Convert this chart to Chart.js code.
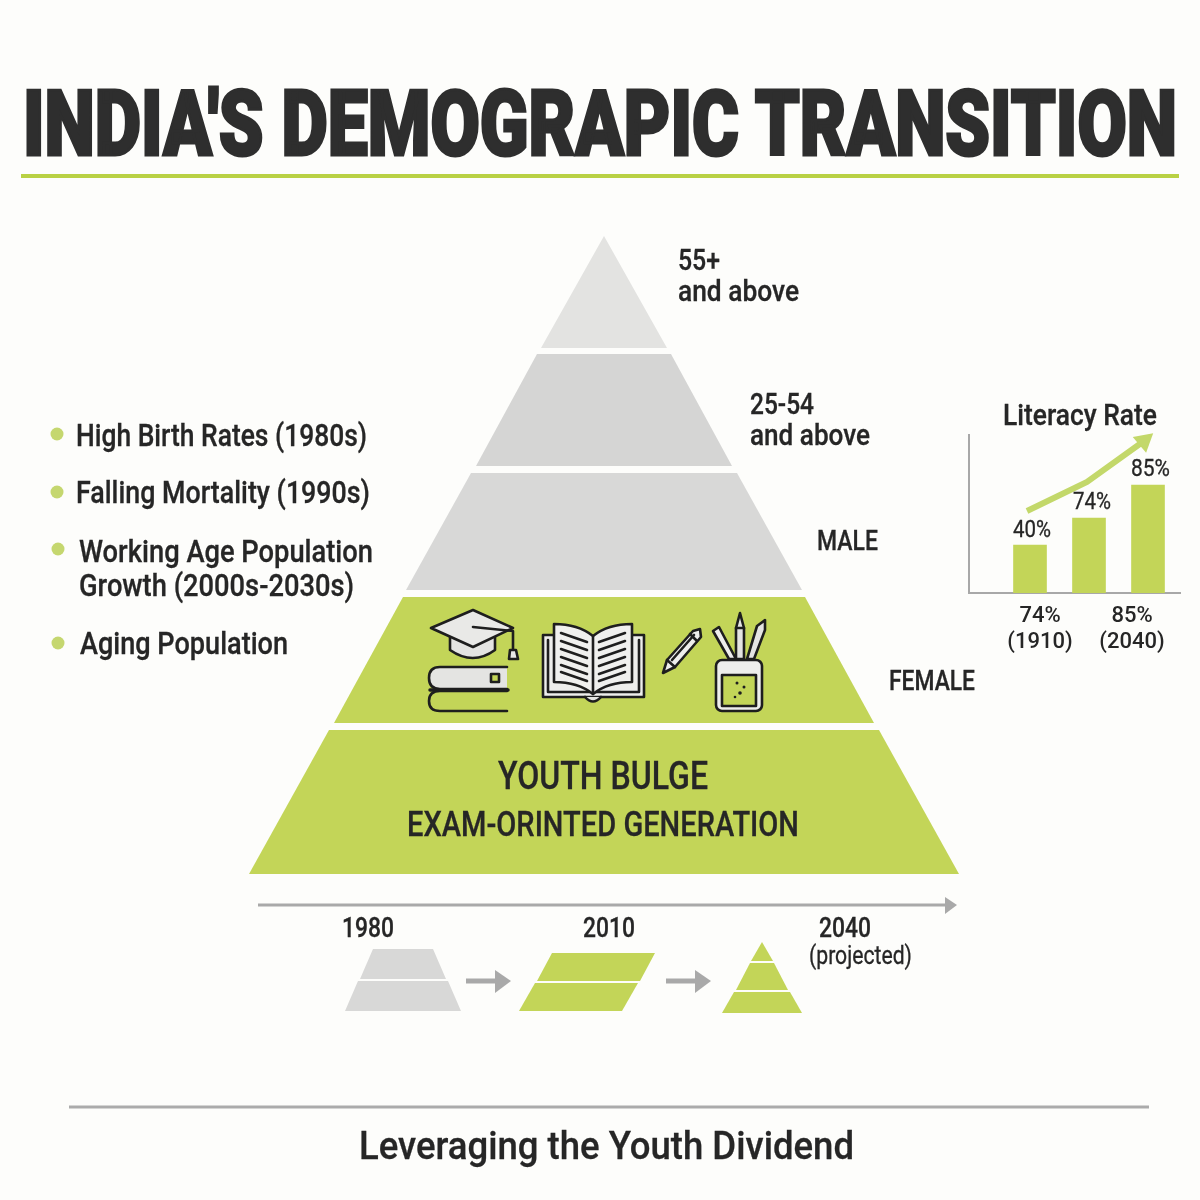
<!DOCTYPE html>
<html><head><meta charset="utf-8">
<script src="https://cdn.jsdelivr.net/npm/chart.js@4"></script>
<style>
html,body{margin:0;padding:0;background:#fdfdfb;width:1200px;height:1200px;overflow:hidden}
#wrap{position:relative;width:1200px;height:1200px}
canvas{position:absolute}
.t{position:absolute;left:0;top:0;white-space:nowrap;transform-origin:0 0;font-family:Roboto,sans-serif;color:#262626;line-height:1;-webkit-text-stroke:.3px #262626}
svg{position:absolute;left:0;top:0}
</style></head><body>
<div id="wrap">
<canvas id="main" width="1200" height="1200" style="left:0;top:0"></canvas>
<canvas id="lit" width="230" height="240" style="left:960px;top:425px"></canvas>
<svg width="1200" height="1200" viewBox="0 0 1200 1200" fill="none" stroke="#1e1e1e" stroke-width="2.6" stroke-linejoin="round" stroke-linecap="round">
  <!-- cap -->
  <path d="M450 636V650Q473 666 495 650V636" fill="#e4e4e2"/>
  <path d="M431 628L473 610L513 628L473 647Z" fill="#e9e9e7"/>
  <path d="M473 627L513 631V650"/>
  <path d="M510 650H516L518 659H509Z" fill="#e9e9e7"/>
  <!-- books -->
  <path d="M507 667H440Q429 667 429 678Q429 689 440 689H507" fill="#e4e4e2"/>
  <rect x="491" y="674" width="8" height="8" fill="#c3d558"/>
  <path d="M430 690H508" stroke-width="3.5"/>
  <path d="M507 691H440Q429 691 429 701Q429 711 440 711H507" fill="#c3d558"/>
  <!-- open book -->
  <path d="M554 635H543V697H644V635H632" fill="#eeeeec"/>
  <path d="M548 640V692H639V640" fill="#eeeeec"/>
  <path d="M585 697Q593 706 601 697" fill="#e4e4e2"/>
  <path d="M554 624Q578 624 593 636Q608 624 632 624V682Q608 682 593 694Q578 682 554 682Z" fill="#f0f0ee"/>
  <path d="M593 636V694"/>
  <path d="M561 633L587 642M561 641L587 650M561 649L587 658M561 657L587 666M561 665L587 674M561 672L587 681"/>
  <path d="M625 633L599 642M625 641L599 650M625 649L599 658M625 657L599 666M625 665L599 674M625 672L599 681"/>
  <!-- pencil -->
  <path d="M663 673L667 660L693 631L700 629L701 637L675 667Z" fill="#eeeeec"/>
  <path d="M667 660L675 667M690 634L697 641M672 660L694 635"/>
  <!-- pencils in cup -->
  <path d="M713 631L719 627L736 659H729Z" fill="#eeeeec"/>
  <path d="M736 659V628L740 613L744 628V659Z" fill="#e4e4e2"/>
  <path d="M736 628H744"/>
  <path d="M747 659L757 626L765 620L765 630L754 659Z" fill="#e4e4e2"/>
  <rect x="716" y="660" width="46" height="51" rx="6" fill="#eeeeec"/>
  <rect x="722" y="675" width="34" height="31" fill="#c3d558"/>
  <g fill="#1e1e1e" stroke="none"><circle cx="737" cy="683" r="1.5"/><circle cx="744" cy="687" r="1.5"/><circle cx="740" cy="693" r="1.8"/><circle cx="735" cy="697" r="1.3"/></g>
</svg>
</div>
<script>
// ---- text ----
const chartTitle = "INDIA'S DEMOGRAPIC TRANSITION";
const footerText = "Leveraging the Youth Dividend";
const driverLabels = ["High Birth Rates (1980s)", "Falling Mortality (1990s)", "Working Age Population", "Growth (2000s-2030s)", "Aging Population"];
const ageLabels = ["55+", "and above", "25-54", "and above", "MALE", "FEMALE"];
const youthLabels = ["YOUTH BULGE", "EXAM-ORINTED GENERATION"];
const timelineLabels = ["1980", "2010", "2040", "(projected)"];
const literacyTitle = "Literacy Rate";
const literacyValueLabels = ["40%", "74%", "85%"];
const literacyTickLabels = [["74%", "(1910)"], ["85%", "(2040)"]];

// ---- pyramid: five bands, levels and half-widths ----
const pyramidCentre = 604;
const bandTopLevel = [236, 354, 473, 597, 730];
const bandBottomLevel = [348, 466, 590, 723, 874];
const bandTopHalfWidth = [0, 67, 133, 201, 275];
const bandBottomHalfWidth = [63, 128, 198, 270, 355];
const bandColors = ["#e3e3e1", "#d5d5d4", "#d8d8d7", "#c3d558", "#c3d558"];

// ---- small pyramids under the timeline ----
const shape1980a = [[373,949],[433,949],[446,979],[360,979]];
const shape1980b = [[358,981],[448,981],[461,1011],[345,1011]];
const shape2010a = [[552,953],[655,953],[640,981],[537,981]];
const shape2010b = [[535,983],[638,983],[622,1011],[519,1011]];
const shape2040a = [[762,942],[773,961],[751,961]];
const shape2040b = [[750,963],[774,963],[788,990],[736,990]];
const shape2040c = [[734,992],[790,992],[802,1013],[722,1013]];

// ---- lines, arrows, bullets ----
const timelineAxis = [[258,905],[946,905]];
const timelineHead = [[945,897],[957,905],[945,914]];
const arrowOne = [[466,981],[496,981]];
const arrowOneHead = [[495,970],[511,981],[495,993]];
const arrowTwo = [[666,981],[696,981]];
const arrowTwoHead = [[695,970],[711,981],[695,993]];
const titleRule = [[21,176],[1179,176]];
const footerRule = [[69,1107],[1149,1107]];
const bulletPoints = [[57,434],[57,492],[58,549],[58,643]];

// ---- literacy mini chart. Drawn bar heights in the picture are not proportional
// to the printed percentages, so the heights are read from the picture and the
// printed labels are kept separately. ----
const literacyBarPositions = [61, 120, 179];
const literacyBarHeights = [48, 75, 108];
const literacyTickPositions = [71, 163];
const literacyTrendX = [58, 118, 175];
const literacyTrendY = [82, 111, 152];

const toPts = a => a.map(p => ({x:p[0], y:p[1]}));
const poly = (pts, color) => ({data:toPts(pts), showLine:true, fill:'shape', backgroundColor:color, borderColor:color, borderWidth:0, pointRadius:0});
const stroke = (pts, color, w) => ({data:toPts(pts), showLine:true, fill:false, borderColor:color, borderWidth:w, pointRadius:0});

const GREEN = "#c3d558", GREY = "#d8d8d7", ARROW = "#a9a9a9";
const datasets = [];
bandTopLevel.forEach((t,i) => {
  const b = bandBottomLevel[i], ht = bandTopHalfWidth[i], hb = bandBottomHalfWidth[i];
  datasets.push(poly([[pyramidCentre-ht,t],[pyramidCentre+ht,t],[pyramidCentre+hb,b],[pyramidCentre-hb,b]], bandColors[i]));
});
[shape1980a,shape1980b].forEach(s => datasets.push(poly(s,GREY)));
[shape2010a,shape2010b,shape2040a,shape2040b,shape2040c].forEach(s => datasets.push(poly(s,GREEN)));
datasets.push(stroke(titleRule,"#b9d144",4), stroke(footerRule,"#ababab",3), stroke(timelineAxis,ARROW,3),
  stroke(arrowOne,ARROW,5), stroke(arrowTwo,ARROW,5),
  poly(timelineHead,ARROW), poly(arrowOneHead,ARROW), poly(arrowTwoHead,ARROW));
datasets.push({data:toPts(bulletPoints), showLine:false, pointRadius:6.5, pointBackgroundColor:"#c5d76f", pointBorderWidth:0});

new Chart(document.getElementById('main'), {
  type:'scatter',
  data:{datasets},
  options:{responsive:false, animation:false, devicePixelRatio:1,
    plugins:{legend:{display:false}, tooltip:{enabled:false}},
    layout:{padding:0, autoPadding:false},
    scales:{x:{type:'linear',min:0,max:1200,display:false}, y:{type:'linear',min:0,max:1200,reverse:true,display:false}}}
});

new Chart(document.getElementById('lit'), {
  data:{datasets:[
    {type:'scatter', order:0, data:literacyTrendX.map((x,i)=>({x, y:literacyTrendY[i]})), showLine:true, borderColor:"#c3d86a", borderWidth:6, fill:false,
      clip:false, pointStyle:'triangle', pointRadius:[0,0,12], pointRotation:[0,0,50], pointBackgroundColor:"#c3d86a", pointBorderWidth:0},
    {type:'bar', order:1, data:literacyBarPositions.map((x,i)=>({x, y:literacyBarHeights[i]})), backgroundColor:GREEN, barThickness:33, borderWidth:0}
  ]},
  options:{responsive:false, animation:false, devicePixelRatio:1,
    plugins:{legend:{display:false}, tooltip:{enabled:false}},
    layout:{padding:{left:9,right:10,top:10,bottom:0}, autoPadding:false},
    scales:{
      x:{type:'linear',offset:false,min:0,max:211,
         grid:{display:false,drawTicks:false}, border:{color:"#a8a8a8",width:2},
         afterBuildTicks:s=>{s.ticks=literacyTickPositions.map(v=>({value:v}));},
         ticks:{autoSkip:false,maxRotation:0,padding:11,color:"#262626",font:{family:"Roboto,sans-serif",weight:'500',size:22,lineHeight:1.18},
           callback:v=>literacyTickLabels[literacyTickPositions.indexOf(v)]},
         afterFit:s=>{s.height=72;}},
      y:{type:'linear',min:0,max:158,
         grid:{display:false,drawTicks:false}, border:{color:"#a8a8a8",width:2},
         ticks:{display:false}, afterFit:s=>{s.width=0;}}
    }}
});

const wrap = document.getElementById('wrap');
function put(text, x, yc, w, size, weight, extra){
  const s = document.createElement('span');
  s.className='t'; s.textContent=text;
  s.style.fontSize=size+'px'; s.style.fontWeight=weight;
  if(extra) Object.assign(s.style,extra);
  wrap.appendChild(s);
  const nat = s.getBoundingClientRect().width, h = s.getBoundingClientRect().height;
  s.style.transform=`translate(${x}px,${yc-h/2}px) scaleX(${w/nat})`;
}
put(chartTitle,23,124,1154,91,900,{color:"#2e2e2e",webkitTextStroke:"3px #2e2e2e"});
put(footerText,359,1146,495,39,500);
put(driverLabels[0],76,435,291,31,500);
put(driverLabels[1],76,492,294,31,500);
put(driverLabels[2],79,551,294,31,500);
put(driverLabels[3],79,585,275,31,500);
put(driverLabels[4],80,643,208,31,500);
put(ageLabels[0],678,260,42,29,500);
put(ageLabels[1],678,291,121,29,500);
put(ageLabels[2],750,404,64,29,500);
put(ageLabels[3],750,435,120,29,500);
put(ageLabels[4],817,541,61,27,500);
put(ageLabels[5],889,681,86,27,500);
put(youthLabels[0],498,776,210,38,500);
put(youthLabels[1],407,824,392,35,500);
put(timelineLabels[0],342,928,52,27,500);
put(timelineLabels[1],583,928,52,27,500);
put(timelineLabels[2],819,928,52,27,500);
put(timelineLabels[3],809,955,103,25,400);
put(literacyTitle,1003,415,154,30,500);
put(literacyValueLabels[0],1013,529,38,24,400);
put(literacyValueLabels[1],1073,501,38,24,400);
put(literacyValueLabels[2],1131,468,39,24,400);
</script>
</body></html>
